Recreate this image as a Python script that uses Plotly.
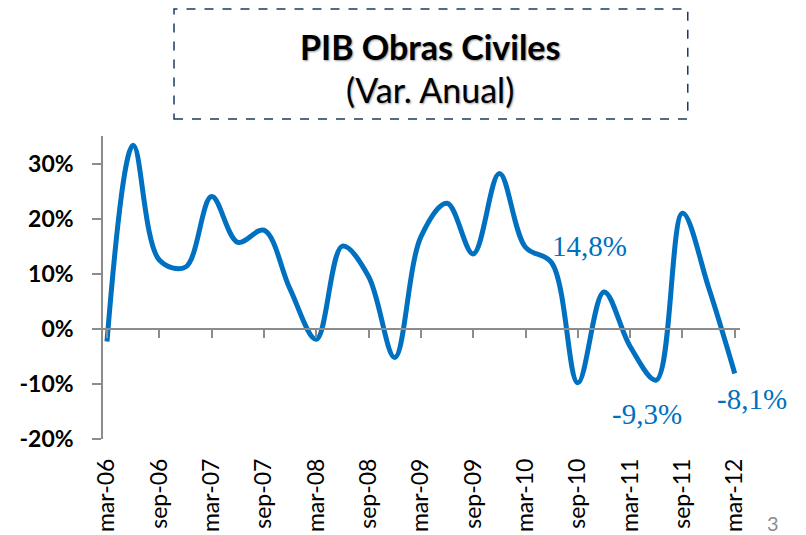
import plotly.graph_objects as go

# Data (quarterly, mar-06 .. mar-12), annual variation in %
quarters = ["mar-06", "jun-06", "sep-06", "dic-06", "mar-07", "jun-07", "sep-07", "dic-07",
            "mar-08", "jun-08", "sep-08", "dic-08", "mar-09", "jun-09", "sep-09", "dic-09",
            "mar-10", "jun-10", "sep-10", "dic-10", "mar-11", "jun-11", "sep-11", "dic-11",
            "mar-12"]
values = [-2.3, 33.3, 12.5, 11.2, 24.0, 15.7, 17.9, 7.2, -1.9, 15.0, 9.5, -5.2, 16.7,
          22.8, 13.6, 28.2, 14.8, 12.0, -9.8, 6.7, -3.2, -9.3, 21.0, 7.5, -8.1]

tick_idx = [0, 2, 4, 6, 8, 10, 12, 14, 16, 18, 20, 22, 24]
tick_labels = [quarters[i] for i in tick_idx]

y_tickvals = [-20, -10, 0, 10, 20, 30]
y_ticktext = ["-20%", "-10%", "0%", "10%", "20%", "30%"]

label_idx = [16, 21, 24]
label_text = ["14,8%", "-9,3%", "-8,1%"]

x_idx = list(range(len(quarters)))

BLUE = "#0070C0"
AXIS = "#8C8C8C"

fig = go.Figure()
fig.add_trace(go.Scatter(x=x_idx, y=values, mode="lines",
                         line=dict(color=BLUE, width=5, shape="spline", smoothing=1.0),
                         hoverinfo="skip", showlegend=False))
# helper trace for the zero-line axis
fig.add_trace(go.Scatter(x=x_idx, y=values, xaxis="x2", mode="none",
                         hoverinfo="skip", showlegend=False))

# page body has an 8px default margin -> figure is 798x527 and offsets reduced by 8
xr = [-0.153, 24.2]
fig.update_layout(
    template="none",
    width=798, height=527,
    margin=dict(l=95, r=66, t=128, b=96, autoexpand=False),
    paper_bgcolor="white", plot_bgcolor="white",
    showlegend=False,
    xaxis=dict(range=xr, tickmode="array", tickvals=tick_idx, ticktext=tick_labels,
               tickangle=-90, showline=False, ticks="", showgrid=False, zeroline=False,
               automargin=False,
               tickfont=dict(family="Lato", size=23, color="black"),
               ticklabelstandoff=14),
    xaxis2=dict(range=xr, overlaying="x", anchor="free", position=20/55,
                tickmode="array", tickvals=tick_idx, showticklabels=False,
                showline=True, linecolor=AXIS, linewidth=1.5,
                ticks="outside", ticklen=8, tickwidth=1.5, tickcolor=AXIS,
                showgrid=False, zeroline=False, automargin=False),
    yaxis=dict(range=[-20, 35], tickmode="array", tickvals=y_tickvals, ticktext=y_ticktext,
               showline=True, linecolor=AXIS, linewidth=1.5,
               ticks="outside", ticklen=9, tickwidth=1.5, tickcolor=AXIS,
               showgrid=False, zeroline=False, automargin=False,
               tickfont=dict(family="Lato", size=23, color="black", weight="bold"),
               ticklabelstandoff=14),
)

# data labels
offsets = [(64, 1), (-9, -34), (17, -26)]
for i, t, (dx, dy) in zip(label_idx, label_text, offsets):
    fig.add_annotation(x=x_idx[i], y=values[i], xref="x", yref="y", text=t,
                       showarrow=False, xanchor="center", yanchor="middle",
                       xshift=dx, yshift=dy,
                       font=dict(family="Liberation Serif", size=29, color=BLUE))

# title box
fig.add_shape(type="rect", xref="paper", yref="paper",
              x0=0.1115, x1=0.918, y0=1.056, y1=1.419,
              line=dict(color="#1F3864", width=1.5, dash="dash"), fillcolor="rgba(0,0,0,0)")
fig.add_annotation(xref="paper", yref="paper", x=0.513, y=1.297, text="<b>PIB Obras Civiles</b>",
                   showarrow=False, xanchor="center", yanchor="middle",
                   font=dict(family="Lato", size=34, color="black", shadow="1px 1px 2px #999"))
fig.add_annotation(xref="paper", yref="paper", x=0.513, y=1.152, text="(Var. Anual)",
                   showarrow=False, xanchor="center", yanchor="middle",
                   font=dict(family="Lato", size=34, color="black", shadow="1px 1px 2px #999"))
# slide number
fig.add_annotation(xref="paper", yref="paper", x=(773 - 103) / 637, y=-(523 - 439) / 303,
                   text="3", showarrow=False, xanchor="center", yanchor="middle",
                   font=dict(family="Lato", size=20, color="#8C8C8C"))

fig.write_html("out.html")
